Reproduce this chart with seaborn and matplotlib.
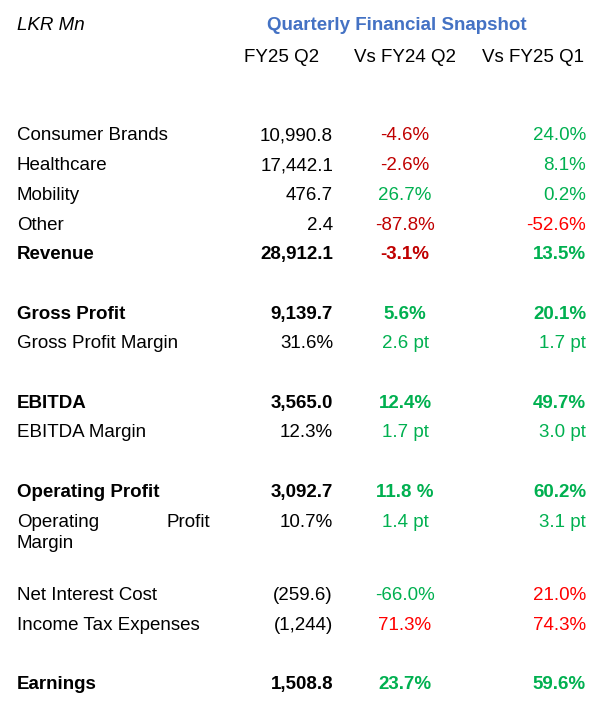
import matplotlib
matplotlib.use("Agg")
import matplotlib.pyplot as plt
import seaborn as sns

# Data
labels = ["Consumer Brands", "Healthcare", "Mobility", "Other", "Revenue", None,
          "Gross Profit", "Gross Profit Margin", None,
          "EBITDA", "EBITDA Margin", None,
          "Operating Profit", "Operating Profit Margin", None,
          "Net Interest Cost", "Income Tax Expenses", None,
          "Earnings"]
fy25_q2 = ["10,990.8", "17,442.1", "476.7", "2.4", "28,912.1", None,
           "9,139.7", "31.6%", None,
           "3,565.0", "12.3%", None,
           "3,092.7", "10.7%", None,
           "(259.6)", "(1,244)", None,
           "1,508.8"]
vs_fy24_q2 = ["-4.6%", "-2.6%", "26.7%", "-87.8%", "-3.1%", None,
              "5.6%", "2.6 pt", None,
              "12.4%", "1.7 pt", None,
              "11.8 %", "1.4 pt", None,
              "-66.0%", "71.3%", None,
              "23.7%"]
vs_fy25_q1 = ["24.0%", "8.1%", "0.2%", "-52.6%", "13.5%", None,
              "20.1%", "1.7 pt", None,
              "49.7%", "3.0 pt", None,
              "60.2%", "3.1 pt", None,
              "21.0%", "74.3%", None,
              "59.6%"]
columns = ["FY25 Q2", "Vs FY24 Q2", "Vs FY25 Q1"]
bold_rows = {"Revenue", "Gross Profit", "EBITDA", "Operating Profit", "Earnings"}

# colour codes: d = dark red, r = red, g = green
c24 = ["d", "d", "g", "d", "d", None, "g", "g", None, "g", "g", None,
       "g", "g", None, "g", "r", None, "g"]
c25 = ["g", "g", "g", "r", "g", None, "g", "g", None, "g", "g", None,
       "g", "g", None, "r", "r", None, "g"]
palette = {"d": "#c00000", "r": "#ff0000", "g": "#00b050"}

sns.set_theme(style="white")
plt.rcParams["font.family"] = ["Liberation Sans", "DejaVu Sans"]
plt.rcParams["text.color"] = "black"
fs = 13.5

fig = plt.figure(figsize=(6.04, 7.16), dpi=100)
ax = fig.add_axes([0, 0, 1, 1])
ax.set_xlim(0, 604)
ax.set_ylim(716, 0)
ax.axis("off")

ax.text(17, 26, "LKR Mn", fontsize=fs, style="italic", va="center", ha="left")
ax.text(397, 26, "Quarterly Financial Snapshot", fontsize=fs, weight="bold",
        color="#4472c4", va="center", ha="center")
for x, col in zip([282, 405, 533], columns):
    ax.text(x, 57, col, fontsize=fs, va="center", ha="center")

step = 29.7
y = 136
for i, lab in enumerate(labels):
    if lab is None:
        y += step
        continue
    w = "bold" if lab in bold_rows else "normal"
    if lab == "Operating Profit Margin":
        ax.text(17, y, "Operating", fontsize=fs, va="center", ha="left")
        ax.text(210, y, "Profit", fontsize=fs, va="center", ha="right")
        ax.text(17, y + 21, "Margin", fontsize=fs, va="center", ha="left")
        extra = 14
    else:
        ax.text(17, y, lab, fontsize=fs, weight=w, va="center", ha="left")
        extra = 0
    ax.text(333, y, fy25_q2[i], fontsize=fs, weight=w, va="center", ha="right")
    ax.text(405, y, vs_fy24_q2[i], fontsize=fs, weight=w, va="center",
            ha="center", color=palette[c24[i]])
    ax.text(586, y, vs_fy25_q1[i], fontsize=fs, weight=w, va="center",
            ha="right", color=palette[c25[i]])
    y += step + extra

plt.savefig("out.png", dpi=100)
plt.close()
